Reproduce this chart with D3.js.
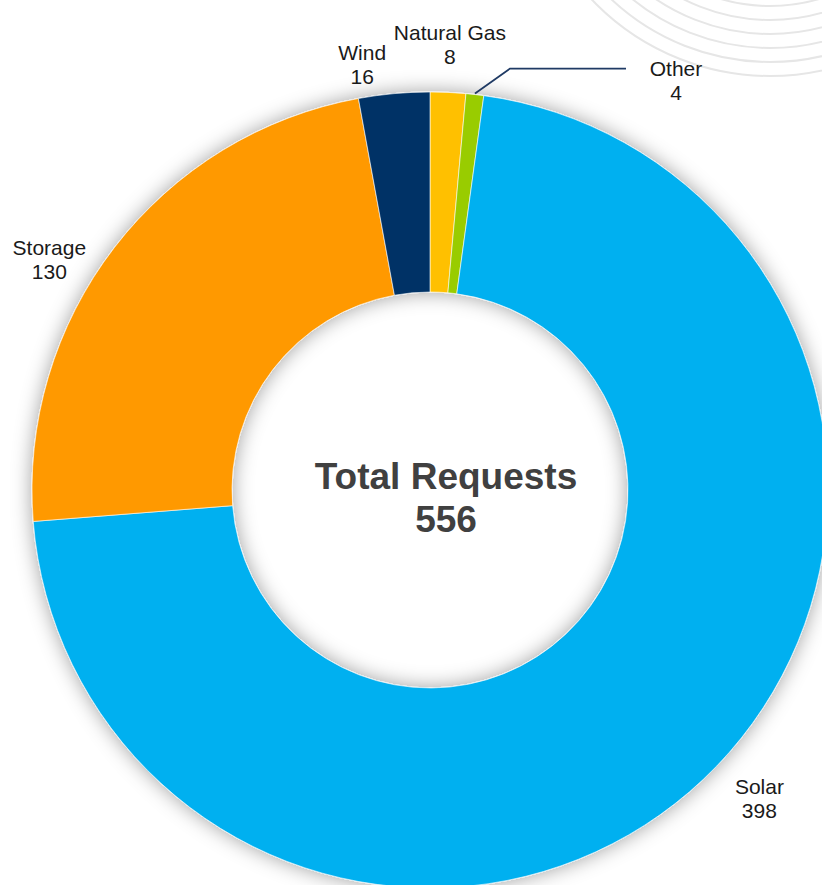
<!DOCTYPE html>
<html>
<head>
<meta charset="utf-8">
<script src="https://cdn.jsdelivr.net/npm/d3@7"></script>
<style>
  html, body { margin: 0; padding: 0; background: #ffffff; }
  svg { display: block; font-family: "Liberation Sans", Arial, sans-serif; }
</style>
</head>
<body>
<svg id="chart" width="822" height="885"></svg>
<script>
// ---- data ----
const categories = ["Natural Gas", "Other", "Solar", "Storage", "Wind"];
const values = [8, 4, 398, 130, 16];
const colors = ["#FFC000", "#99CC00", "#00B0F0", "#FF9900", "#003366"];
const centerTitle = "Total Requests";

// ---- layout ----
const W = 822, H = 885;
const cx = 430, cy = 490, outerR = 398, innerR = 198;
const svg = d3.select("#chart");

// decorative arcs, top right
const deco = svg.append("g").attr("fill", "none").attr("stroke", "#e6e6e6").attr("stroke-width", 2);
d3.range(7).forEach(i => {
  deco.append("circle").attr("cx", 770).attr("cy", -170).attr("r", 246 - i * 14);
});

// shadow filter
const defs = svg.append("defs");
const f = defs.append("filter").attr("id", "sh").attr("x", "-20%").attr("y", "-20%").attr("width", "140%").attr("height", "140%");
f.append("feGaussianBlur").attr("in", "SourceAlpha").attr("stdDeviation", 10).attr("result", "b");
f.append("feFlood").attr("flood-color", "#000").attr("flood-opacity", 0.38).attr("result", "c");
f.append("feComposite").attr("in", "c").attr("in2", "b").attr("operator", "in").attr("result", "s");
const m = f.append("feMerge");
m.append("feMergeNode").attr("in", "s");
m.append("feMergeNode").attr("in", "SourceGraphic");

const data = categories.map((c, i) => ({ name: c, value: values[i], color: colors[i] }));
const pie = d3.pie().value(d => d.value).sort(null).startAngle(0).endAngle(2 * Math.PI);
const arcs = pie(data);
const arcGen = d3.arc().innerRadius(innerR).outerRadius(outerR);

const g = svg.append("g").attr("transform", `translate(${cx},${cy})`);
g.append("g").attr("filter", "url(#sh)")
  .selectAll("path").data(arcs).join("path")
  .attr("d", arcGen)
  .attr("fill", d => d.data.color)
  .attr("stroke", "#ffffff").attr("stroke-width", 0.6);

// labels
const total = d3.sum(values);
const nudges = { "Natural Gas": [0, 440, 1], "Wind": [-4, 425, 0], "Storage": [-7, 442, 0], "Solar": [-3, 455, 0] };
const lbl = g.append("g").attr("font-size", 21).attr("fill", "#1a1a1a").attr("text-anchor", "middle");
arcs.forEach(a => {
  const mid = (a.startAngle + a.endAngle) / 2;
  let x, y;
  if (a.data.name === "Other") {
    const p0 = [Math.sin(mid) * (outerR + 1), -Math.cos(mid) * (outerR + 1)];
    const p1 = [p0[0] + 35, p0[1] - 25];
    const p2 = [p1[0] + 116, p1[1]];
    g.append("polyline").attr("points", [p0, p1, p2].map(p => p.join(",")).join(" "))
      .attr("fill", "none").attr("stroke", "#1F3A64").attr("stroke-width", 1.8);
    x = p2[0] + 50; y = p2[1] + 17;
  } else {
    const [dAng, r] = nudges[a.data.name];
    const ang = mid + dAng * Math.PI / 180;
    x = Math.sin(ang) * r; y = -Math.cos(ang) * r;
  }
  const t = lbl.append("text").attr("x", x).attr("y", y - 10);
  t.append("tspan").attr("x", x).attr("dy", 0).text(a.data.name);
  t.append("tspan").attr("x", x).attr("dy", 24).text(a.data.value);
});

// center text
const ct = g.append("text").attr("text-anchor", "middle").attr("font-weight", "bold")
  .attr("font-size", 37).attr("fill", "#404040");
ct.append("tspan").attr("x", 16).attr("y", -1).text(centerTitle);
ct.append("tspan").attr("x", 16).attr("y", 42).text(total);
</script>
</body>
</html>
